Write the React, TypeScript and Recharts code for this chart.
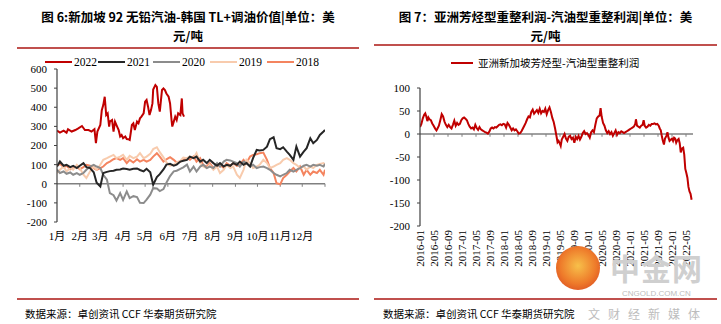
import React from 'react';
import { LineChart, Line, XAxis, YAxis, ReferenceLine } from 'recharts';

const SERIF = "'Liberation Serif', 'Times New Roman', 'Noto Sans CJK SC', serif";
const CJK = "'Noto Sans CJK SC', 'Noto Sans', sans-serif";

// ---------- Left chart (figure 6) ----------
const monthLabels = ['1月', '2月', '3月', '4月', '5月', '6月', '7月', '8月', '9月', '10月', '11月', '12月'];
const monthStartDays = [0, 31, 59, 90, 120, 151, 181, 212, 243, 273, 304, 334];
const yearEndDay = 365;
const leftYTicks = [-200, -100, 0, 100, 200, 300, 400, 500, 600];

const gridDays = [
  0, 4, 9, 13, 18, 22, 27, 31, 36, 40, 45, 50, 54, 59, 63, 68, 72, 77, 81, 86,
  90, 95, 99, 104, 109, 113, 118, 122, 127, 131, 136, 140, 145, 149, 154, 159, 163, 168, 172, 177,
  181, 186, 190, 195, 199, 204, 208, 213, 218, 222, 227, 231, 236, 240, 245, 249, 254, 258, 263, 267,
  272, 276, 281, 286, 290, 295, 299, 304, 308, 313, 317, 322, 326, 331, 336, 340, 345, 349, 354, 358,
  363, 365,
];

const days2022 = [
  0, 4, 9, 13, 15, 20, 25, 29, 34, 38, 43, 47, 51, 53, 55, 59, 61, 63, 65, 67,
  69, 71, 72, 75, 77, 79, 81, 84, 86, 88, 90, 93, 95, 97, 99, 102, 104, 106, 109, 111,
  113, 115, 118, 120, 122, 124, 126, 128, 130, 131, 134, 136, 138, 140, 143, 145, 147, 149, 152, 154,
  156, 157, 159, 161, 163, 165, 168, 170, 171, 173,
];
const values2022 = [
  278, 267, 278, 267, 285, 273, 281, 290, 302, 281, 281, 273, 285, 212, 273, 307, 385, 411, 455, 359,
  368, 299, 325, 333, 273, 325, 307, 281, 247, 255, 238, 247, 234, 233, 229, 307, 316, 281, 325, 316,
  342, 351, 368, 429, 438, 403, 359, 385, 420, 493, 516, 507, 420, 377, 490, 498, 490, 472, 455, 420,
  333, 299, 325, 351, 333, 368, 359, 446, 368, 351,
];
const values2021 = [
  90, 116, 94, 99, 87, 94, 82, 94, 108, 87, 82, 60, 5, -14, 56, 62, 66, 68, 73, 75,
  80, 77, 73, 78, 80, 72, 65, 78, 60, -5, 35, 50, 75, 100, 104, 95, 100, 116, 120, 125,
  142, 134, 142, 116, 125, 108, 125, 108, 94, 108, 90, 99, 94, 108, 99, 116, 99, 108, 90, 134,
  177, 174, 177, 194, 233, 243, 186, 181, 191, 168, 151, 125, 194, 142, 168, 186, 238, 212, 229, 255,
  273, 281,
];
const values2020 = [
  73, 56, 64, 52, 59, 47, 56, 47, 56, 73, 90, 99, 90, 82, 47, 21, -49, -60, -88, -49,
  -85, -40, -75, -65, -70, -100, -101, -83, -57, -23, -25, -38, -28, 5, 40, 65, 68, 78, 86, 100,
  64, 90, 64, 90, 99, 82, 90, 82, 108, 90, 116, 125, 122, 116, 108, 90, 116, 108, 90, 99,
  82, 87, 90, 82, 73, 56, 47, 38, 47, 56, 73, 64, 73, 82, 94, 99, 90, 99, 94, 99,
  90, 104,
];
const values2019 = [
  56, 73, 90, 64, 82, 73, 99, 82, 47, 30, 64, 90, 73, 99, 125, 134, 142, 151, 134, 142,
  151, 125, 146, 134, 142, 160, 134, 142, 156, 181, 191, 165, 138, 112, 95, 99, 112, 120, 137, 134,
  142, 134, 160, 108, 90, 82, 99, 73, 90, 56, 73, 99, 82, 90, 47, 30, 73, 125, 108, 82,
  90, 99, 125, 108, 82, 90, 99, 108, 125, 134, 125, 108, 99, 82, 90, 73, 90, 82, 99, 104,
  108, 99,
];
const values2018 = [
  94, 104, 87, 94, 76, 82, 90, 76, 87, 99, 94, 82, 73, 82, 90, 108, 116, 128, 134, 125,
  134, 108, 125, 111, 128, 116, 125, 116, 125, 142, 160, 142, 116, 128, 139, 125, 111, 116, 125, 134,
  125, 142, 116, 134, 99, 90, 108, 82, 90, 99, 82, 108, 94, 108, 94, 99, 125, 108, 142, 151,
  154, 160, 163, 125, 82, 56, 3, -3, 30, 47, 64, 82, 64, 90, 47, 73, 47, 64, 56, 73,
  47, 73,
];

const leftSeries = [
  { name: '2022', color: '#C00000', days: days2022, values: values2022 },
  { name: '2021', color: '#262626', days: gridDays, values: values2021 },
  { name: '2020', color: '#8C8C8C', days: gridDays, values: values2020 },
  { name: '2019', color: '#F8CBAD', days: gridDays, values: values2019 },
  { name: '2018', color: '#F4845F', days: gridDays, values: values2018 },
];

// ---------- Right chart (figure 7) ----------
const profitName = '亚洲新加坡芳烃型-汽油型重整利润';
const profitTickMonths = [0, 4, 8, 12, 16, 20, 24, 28, 32, 36, 40, 44, 48, 52, 56, 60, 64, 68, 72, 76];
const profitTickLabels = [
  '2016-01', '2016-05', '2016-09', '2017-01', '2017-05', '2017-09', '2018-01', '2018-05', '2018-09', '2019-01',
  '2019-05', '2019-09', '2020-01', '2020-05', '2020-09', '2021-01', '2021-05', '2021-09', '2022-01', '2022-05',
];
const rightYTicks = [-200, -150, -100, -50, 0, 50, 100];

// months elapsed since 2016-01
const profitMonths = [
  0, 0.4, 0.8, 1.2, 1.5, 1.8, 2.1, 2.4, 2.7, 3.1, 3.5, 3.9, 4.3, 4.7, 5.0, 5.4, 5.8, 6.2, 6.6, 7.0,
  7.4, 7.8, 8.2, 8.6, 9.0, 9.4, 9.8, 10.2, 10.6, 11.0, 11.4, 11.8, 12.2, 12.6, 13.0, 13.4, 13.8, 14.2, 14.6, 15.0,
  15.4, 15.8, 16.2, 16.6, 17.0, 17.4, 17.8, 18.2, 18.6, 19.0, 19.4, 19.8, 20.2, 20.6, 21.0, 21.4, 21.8, 22.2, 22.6, 23.0,
  23.4, 23.8, 24.2, 24.6, 25.0, 25.4, 25.8, 26.2, 26.6, 27.0, 27.4, 27.8, 28.2, 28.6, 29.0, 29.4, 29.8, 30.2, 30.6, 31.0,
  31.4, 31.8, 32.2, 32.6, 33.0, 33.4, 33.8, 34.2, 34.6, 35.0, 35.4, 35.8, 36.2, 36.6, 37.0, 37.4, 37.8, 38.2, 38.6, 39.0,
  39.3, 39.6, 39.9, 40.2, 40.5, 40.9, 41.3, 41.7, 42.1, 42.5, 42.9, 43.3, 43.7, 44.1, 44.5, 44.9, 45.3, 45.7, 46.1, 46.5,
  46.9, 47.3, 47.7, 48.1, 48.5, 48.9, 49.3, 49.7, 50.1, 50.5, 50.9, 51.3, 51.6, 51.9, 52.3, 52.7, 53.1, 53.5, 53.9, 54.3,
  54.7, 55.1, 55.5, 55.9, 56.3, 56.7, 57.1, 57.5, 57.9, 58.3, 58.7, 59.1, 59.5, 59.9, 60.3, 60.7, 61.1, 61.5, 61.7, 62.0,
  62.4, 62.8, 63.2, 63.6, 63.9, 64.2, 64.6, 65.0, 65.4, 65.8, 66.2, 66.6, 67.0, 67.4, 67.8, 68.2, 68.5, 68.8, 69.1, 69.4,
  69.7, 70.0, 70.4, 70.7, 71.0, 71.3, 71.7, 72.0, 72.3, 72.6, 72.9, 73.2, 73.5, 73.9, 74.2, 74.5, 74.8, 75.2, 75.5, 75.8,
  76.1, 76.4, 76.7, 77.0, 77.3, 77.6,
];
const profitValues = [
  15, 22, 34, 42, 45, 38, 28, 36, 32, 30, 23, 18, 12, 8, 12, 18, 30, 43, 38, 27,
  20, 15, 20, 15, 12, 20, 29, 18, 24, 20, 22, 30, 34, 36, 33, 30, 22, 16, 12, 14,
  10, 20, 13, 9, 15, 10, 8, 6, 4, 3, 1, 5, 12, 14, 12, 15, 14, 17, 20, 21,
  19, 22, 21, 14, 24, 20, 14, 8, 12, 8, 10, 6, 1, 2, 6, 12, 18, 24, 32, 38,
  36, 48, 53, 44, 48, 52, 46, 55, 45, 50, 48, 55, 43, 52, 58, 48, 35, 26, 12, -5,
  -18, -15, -20, -26, -12, -6, 0, -10, -15, -6, -4, -11, -8, -19, -6, -11, -4, -12, -6, 2,
  6, 0, 2, -2, -8, 4, 8, 4, 20, 34, 38, 40, 56, 38, 24, 18, 8, 2, 6, 0,
  4, -4, 2, 8, -2, 4, 2, 6, 4, 2, 4, 6, 8, 10, 12, 14, 16, 22, 32, 18,
  16, 14, 18, 20, 30, 18, 14, 16, 20, 18, 22, 22, 23, 21, 22, 18, 12, 8, -5, -15,
  -23, -10, -4, 4, -8, -15, -12, -10, -15, -8, -10, -19, -14, -11, -20, -40, -32, -30, -45, -76,
  -85, -95, -115, -125, -130, -143,
];

const RED = '#C00000';
const AXIS = '#404040';
const ZERO = '#808080';
const RULE = '#C0504D';

const tickStyle = { fontSize: 11, fill: '#000', fontFamily: SERIF };

function RotatedTick(props: any) {
  const { x, y, payload } = props;
  const idx = profitTickMonths.indexOf(payload.value);
  return (
    <text
      x={x}
      y={y}
      transform={`rotate(-90 ${x} ${y})`}
      textAnchor="end"
      dy="0.35em"
      fontSize={11}
      fontFamily={SERIF}
      fill="#000"
    >
      {idx >= 0 ? profitTickLabels[idx] : ''}
    </text>
  );
}

function LeftChart() {
  const tickDays = [...monthStartDays.slice(1), yearEndDay];
  return (
    <LineChart width={360} height={300} margin={{ top: 69, right: 35, bottom: 48, left: 0 }}>
      <XAxis
        xAxisId="d"
        type="number"
        dataKey="day"
        domain={[0, 365]}
        ticks={monthStartDays}
        interval={0}
        tickFormatter={(d: number) => monthLabels[monthStartDays.indexOf(d)]}
        axisLine={false}
        tickLine={false}
        tickMargin={4}
        height={30}
        tick={tickStyle}
        allowDataOverflow
      />
      <YAxis
        yAxisId="v"
        type="number"
        domain={[-200, 600]}
        ticks={leftYTicks}
        interval={0}
        width={57}
        axisLine={{ stroke: AXIS, strokeWidth: 1.2 }}
        tickLine={{ stroke: AXIS }}
        tickSize={3}
        tickMargin={7}
        tick={tickStyle}
        allowDataOverflow
      />
      <ReferenceLine xAxisId="d" yAxisId="v" y={0} stroke={ZERO} strokeWidth={1.3} />
      {tickDays.map((d) => (
        <ReferenceLine
          key={d}
          xAxisId="d"
          yAxisId="v"
          segment={[{ x: d, y: 0 }, { x: d, y: -16 }]}
          stroke={ZERO}
          strokeWidth={1}
        />
      ))}
      {[...leftSeries].reverse().map((s) => (
        <Line
          key={s.name}
          xAxisId="d"
          yAxisId="v"
          data={s.days.map((d, i) => ({ day: d, v: s.values[i] }))}
          dataKey="v"
          name={s.name}
          stroke={s.color}
          strokeWidth={2}
          dot={false}
          type="linear"
          isAnimationActive={false}
        />
      ))}
    </LineChart>
  );
}

function RightChart() {
  const data = profitMonths.map((m, i) => ({ m, v: profitValues[i] }));
  return (
    <LineChart width={361} height={300} data={data} margin={{ top: 88, right: 28, bottom: 29, left: 0 }}>
      <XAxis
        xAxisId="m"
        type="number"
        dataKey="m"
        domain={[0, 78]}
        ticks={profitTickMonths}
        interval={0}
        axisLine={false}
        tickLine={false}
        tickSize={0}
        tickMargin={4}
        height={45}
        tick={<RotatedTick />}
        allowDataOverflow
      />
      <YAxis
        yAxisId="v"
        type="number"
        domain={[-200, 100]}
        ticks={rightYTicks}
        interval={0}
        width={60}
        axisLine={{ stroke: AXIS, strokeWidth: 1.2 }}
        tickLine={{ stroke: AXIS }}
        tickSize={3}
        tickMargin={7}
        tick={tickStyle}
        allowDataOverflow
      />
      <ReferenceLine xAxisId="m" yAxisId="v" y={0} stroke={ZERO} strokeWidth={1.3} />
      {profitTickMonths.slice(1).map((m) => (
        <ReferenceLine
          key={m}
          xAxisId="m"
          yAxisId="v"
          segment={[{ x: m, y: 0 }, { x: m, y: -6 }]}
          stroke={ZERO}
          strokeWidth={1}
        />
      ))}
      <Line
        xAxisId="m"
        yAxisId="v"
        dataKey="v"
        name={profitName}
        stroke={RED}
        strokeWidth={2}
        dot={false}
        type="linear"
        isAnimationActive={false}
      />
    </LineChart>
  );
}

const legendSlots = [45, 98, 153, 210, 267];

export default function App() {
  const titleStyle: React.CSSProperties = {
    position: 'absolute',
    top: 7,
    fontFamily: CJK,
    fontWeight: 700,
    fontSize: 12.5,
    lineHeight: '19px',
    textAlign: 'center',
    whiteSpace: 'nowrap',
    color: '#000',
  };
  const footStyle: React.CSSProperties = {
    position: 'absolute',
    top: 306,
    fontFamily: CJK,
    fontSize: 10.5,
    lineHeight: '16px',
    whiteSpace: 'nowrap',
    color: '#000',
  };
  return (
    <div style={{ position: 'absolute', left: 0, top: 0, width: 721, height: 324, background: '#fff', overflow: 'hidden' }}>
      <div style={{ ...titleStyle, left: 17, width: 342 }}>
        图 6:新加坡 92 无铅汽油-韩国 TL+调油价值|单位：美<br />元/吨
      </div>
      <div style={{ ...titleStyle, left: 374, width: 343 }}>
        图 7：亚洲芳烃型重整利润-汽油型重整利润|单位：美<br />元/吨
      </div>
      <div style={{ position: 'absolute', left: 17, top: 47, width: 342, height: 2, background: RULE }} />
      <div style={{ position: 'absolute', left: 374, top: 44, width: 343, height: 2, background: RULE }} />

      <div style={{ position: 'absolute', left: 0, top: 0 }}>
        <LeftChart />
      </div>
      <div style={{ position: 'absolute', left: 360, top: 0 }}>
        <RightChart />
      </div>

      {leftSeries.map((s, i) => (
        <div
          key={s.name}
          style={{ position: 'absolute', left: legendSlots[i], top: 55, height: 14, display: 'flex', alignItems: 'center' }}
        >
          <div style={{ width: 27, height: 2, background: s.color }} />
          <span style={{ marginLeft: 2, fontFamily: SERIF, fontSize: 11.5, lineHeight: '14px', color: '#000' }}>{s.name}</span>
        </div>
      ))}
      <div style={{ position: 'absolute', left: 451, top: 56, height: 14, display: 'flex', alignItems: 'center' }}>
        <div style={{ width: 22, height: 2, background: RED }} />
        <span style={{ marginLeft: 5, fontFamily: CJK, fontSize: 10.5, lineHeight: '14px', color: '#000' }}>{profitName}</span>
      </div>

      <div style={{ position: 'absolute', left: 17, top: 298, width: 342, height: 2, background: RULE }} />
      <div style={{ position: 'absolute', left: 374, top: 298, width: 343, height: 2, background: RULE }} />
      <div style={{ ...footStyle, left: 25 }}>数据来源：卓创资讯 CCF 华泰期货研究院</div>
      <div style={{ ...footStyle, left: 383 }}>数据来源：卓创资讯 CCF 华泰期货研究院</div>

      {/* watermark */}
      <div
        style={{
          position: 'absolute',
          left: 556,
          top: 246,
          width: 44,
          height: 44,
          borderRadius: 22,
          background: 'radial-gradient(circle at 50% 45%, #F7C04A 0%, #EE7A2A 55%, #D23A1E 100%)',
        }}
      />
      <div style={{ position: 'absolute', left: 610, top: 250, fontFamily: CJK, fontWeight: 700, fontSize: 30, lineHeight: '34px', color: '#CFCFCF', letterSpacing: 1 }}>
        中金网
      </div>
      <div style={{ position: 'absolute', left: 622, top: 289, fontFamily: "'Liberation Sans', sans-serif", fontSize: 8, lineHeight: '10px', color: '#BDBDBD' }}>
        CNGOLD.COM.CN
      </div>
      <div style={{ position: 'absolute', left: 588, top: 306, fontFamily: CJK, fontSize: 12, lineHeight: '16px', color: '#BDBDBD', letterSpacing: 8 }}>
        文财经新媒体
      </div>
    </div>
  );
}
